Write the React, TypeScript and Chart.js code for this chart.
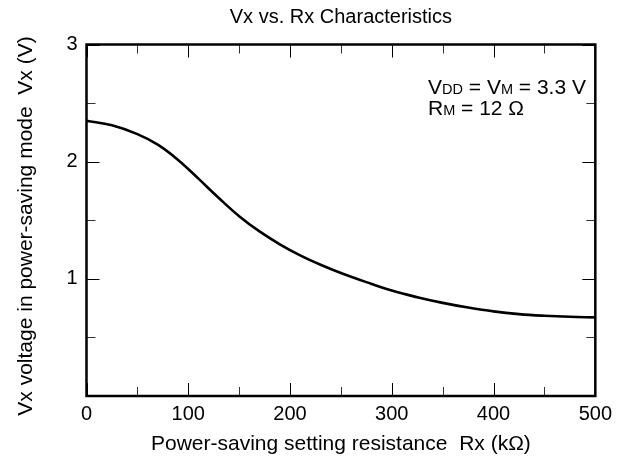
import React, { useEffect, useRef } from "react";
import { Chart, registerables } from "chart.js";

Chart.register(...registerables);

const rxValues = [0, 25, 50, 70, 90, 110, 130, 150, 170, 190, 210, 230, 250, 275, 300, 325, 350, 375, 400, 425, 450, 475, 500];
const vxValues = [2.35, 2.31, 2.235, 2.145, 2.015, 1.855, 1.69, 1.535, 1.405, 1.295, 1.2, 1.12, 1.05, 0.972, 0.9, 0.843, 0.795, 0.755, 0.722, 0.699, 0.685, 0.676, 0.671];

const xMajorTicks = [0, 100, 200, 300, 400, 500];
const xMinorTicks = [50, 150, 250, 350, 450];
const yMajorTicks = [0, 1, 2, 3];
const yMinorTicks = [0.5, 1.5, 2.5];

const chartTitle = "Vx vs. Rx Characteristics";
const xTitle = "Power-saving setting resistance  Rx (k\u03A9)";
const yTitle = "Vx voltage in power-saving mode  Vx (V)";

const FONT = "'Liberation Sans', Arial, Helvetica, sans-serif";

const decorPlugin = {
  id: "decor",
  afterDraw(chart: any) {
    const ctx = chart.ctx;
    const { left, right, top, bottom } = chart.chartArea;
    const xs = chart.scales.x;
    const ys = chart.scales.y;
    ctx.save();
    ctx.lineWidth = 1;
    const drawX = (v: number, len: number, color: string) => {
      const px = Math.round(xs.getPixelForValue(v)) + 0.5;
      ctx.strokeStyle = color;
      ctx.beginPath();
      ctx.moveTo(px, bottom);
      ctx.lineTo(px, bottom - len);
      ctx.moveTo(px, top);
      ctx.lineTo(px, top + len);
      ctx.stroke();
    };
    const drawY = (v: number, len: number, color: string) => {
      const py = Math.round(ys.getPixelForValue(v)) + 0.5;
      ctx.strokeStyle = color;
      ctx.beginPath();
      ctx.moveTo(left, py);
      ctx.lineTo(left + len, py);
      ctx.moveTo(right, py);
      ctx.lineTo(right - len, py);
      ctx.stroke();
    };
    xMajorTicks.forEach((v) => drawX(v, 13, "#000"));
    xMinorTicks.forEach((v) => drawX(v, 9, "#333"));
    yMajorTicks.forEach((v) => drawY(v, 13, "#000"));
    yMinorTicks.forEach((v) => drawY(v, 9, "#333"));
    ctx.strokeStyle = "#000";
    ctx.lineWidth = 2.5;
    ctx.strokeRect(left, top, right - left, bottom - top);

    ctx.fillStyle = "#000";
    ctx.font = `20px ${FONT}`;
    ctx.textAlign = "center";
    ctx.textBaseline = "alphabetic";
    ctx.fillText(chartTitle, (left + right) / 2, 23);
    ctx.font = `21px ${FONT}`;
    ctx.fillText(xTitle, (left + right) / 2, 450);
    ctx.save();
    ctx.translate(32, 226);
    ctx.rotate(-Math.PI / 2);
    ctx.font = `21px ${FONT}`;
    ctx.fillText(yTitle, 0, 0);
    ctx.restore();

    const big = `21px ${FONT}`;
    const small = `14.5px ${FONT}`;
    const drawRuns = (runs: [string, string][], x: number, y: number) => {
      ctx.textAlign = "left";
      let cx = x;
      runs.forEach(([t, f]) => {
        ctx.font = f;
        ctx.fillText(t, cx, y);
        cx += ctx.measureText(t).width;
      });
    };
    drawRuns([["V", big], ["DD", small], [" = V", big], ["M", small], [" = 3.3 V", big]], 428, 94);
    drawRuns([["R", big], ["M", small], [" = 12 \u03A9", big]], 428, 115);
    ctx.restore();
  },
};

export default function App() {
  const ref = useRef<HTMLCanvasElement | null>(null);
  useEffect(() => {
    document.body.style.margin = "0";
    const canvas = ref.current!;
    const chart = new Chart(canvas, {
      type: "line",
      data: {
        datasets: [
          {
            data: rxValues.map((x, i) => ({ x, y: vxValues[i] })),
            borderColor: "#000",
            borderWidth: 2.6,
            pointRadius: 0,
            fill: false,
            tension: 0.4,
          },
        ],
      },
      options: {
        responsive: false,
        animation: false,
        layout: { padding: { top: 44.5, right: 20.5, left: 0, bottom: 0 } },
        plugins: { legend: { display: false }, tooltip: { enabled: false }, title: { display: false } },
        scales: {
          x: {
            type: "linear",
            min: 0,
            max: 500,
            grid: { display: false, drawTicks: false },
            border: { display: false },
            afterFit: (s: any) => {
              s.height = 63;
            },
            afterBuildTicks: (s: any) => {
              s.ticks = xMajorTicks.map((v) => ({ value: v }));
            },
            ticks: { color: "#000", font: { size: 20, family: FONT }, padding: 6, maxRotation: 0 },
          },
          y: {
            type: "linear",
            min: 0,
            max: 3,
            grid: { display: false, drawTicks: false },
            border: { display: false },
            afterFit: (s: any) => {
              s.width = 86.5;
            },
            afterBuildTicks: (s: any) => {
              s.ticks = yMajorTicks.map((v) => ({ value: v }));
            },
            ticks: {
              color: "#000",
              font: { size: 20, family: FONT },
              padding: 9,
              callback: (v: any) => (v === 0 ? "" : String(v)),
            },
          },
        },
      },
      plugins: [decorPlugin],
    });
    return () => chart.destroy();
  }, []);
  return <canvas ref={ref} width={618} height={459} style={{ display: "block" }} />;
}
